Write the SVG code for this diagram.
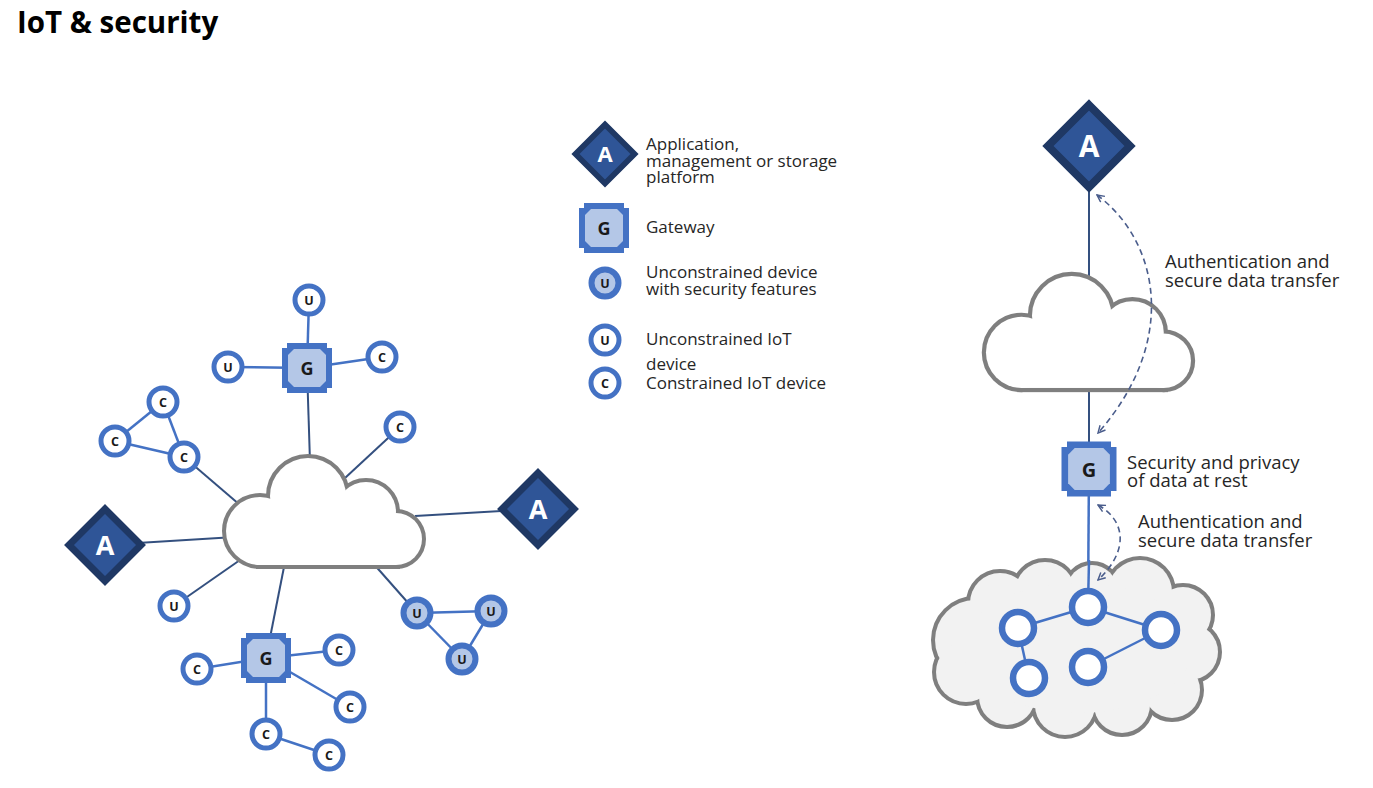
<svg xmlns="http://www.w3.org/2000/svg" width="1373" height="788" viewBox="0 0 1373 788">
<style>
.t{font-family:"Open Sans","Liberation Sans",sans-serif;fill:#262626}
.lg{font-size:17px}
.rl{font-size:18.5px}
.nl{font-family:"Open Sans","Liberation Sans",sans-serif;font-weight:bold;font-size:12.5px;fill:#1a1a1a;text-anchor:middle}
.gl{font-family:"Open Sans","Liberation Sans",sans-serif;font-weight:bold;font-size:18px;fill:#1a1a1a;text-anchor:middle}
.al{font-family:"Open Sans","Liberation Sans",sans-serif;font-weight:bold;fill:#ffffff;text-anchor:middle}
.ring{fill:#ffffff;stroke:#4472c4;stroke-width:5}
.sring{fill:#b4c7e7;stroke:#4472c4;stroke-width:6}
.bring{fill:#ffffff;stroke:#4472c4;stroke-width:6.5}
.nn{stroke:#4472c4;stroke-width:2.5;fill:none}
.cc{stroke:#34507f;stroke-width:2;fill:none}
.dash{stroke:#4a5d8c;stroke-width:1.6;fill:none;stroke-dasharray:6 4}
</style>
<defs>
<g id="cloudA">
<circle cx="33" cy="74" r="34"/>
<circle cx="81" cy="39" r="38"/>
<circle cx="139" cy="55" r="30"/>
<circle cx="169" cy="82" r="26"/>
<rect x="33" y="60" width="136" height="48"/>
</g>
<g id="cloudB">
<circle cx="975" cy="640" r="40"/>
<circle cx="1000" cy="603" r="30"/>
<circle cx="1045" cy="592" r="30"/>
<circle cx="1092" cy="590" r="25"/>
<circle cx="1140" cy="592" r="32"/>
<circle cx="1183" cy="615" r="28"/>
<circle cx="1190" cy="652" r="28"/>
<circle cx="1172" cy="690" r="28"/>
<circle cx="1122" cy="705" r="28"/>
<circle cx="1065" cy="705" r="30"/>
<circle cx="1007" cy="697" r="28"/>
<circle cx="966" cy="672" r="30"/>
<ellipse cx="1078" cy="648" rx="115" ry="65"/>
</g>
<g id="gw">
<path d="M-20,-25 H20 V-20 H25 V20 H20 V25 H-20 V20 H-25 V-20 H-20 Z" fill="#4472c4"/>
<path d="M-13,-19 H13 L19,-13 V13 L13,19 H-13 L-19,13 V-13 Z" fill="#b4c7e7"/>
</g>
<polygon id="diam" points="0,-36 36,0 0,36 -36,0" fill="#2f5597" stroke="#1f3864" stroke-width="7"/>
<marker id="arr" viewBox="0 0 10 10" refX="9" refY="5" markerWidth="9" markerHeight="9" markerUnits="userSpaceOnUse" orient="auto-start-reverse">
<path d="M1,1 L9,5 L1,9" fill="none" stroke="#4a5d8c" stroke-width="1.6"/>
</marker>
</defs>

<text x="17" y="33" class="t" style="font-size:29.5px;font-weight:bold;fill:#000">IoT &amp; security</text>

<g id="connectors">
<line class="cc" x1="307" y1="368" x2="310" y2="462"/>
<line class="cc" x1="400" y1="427" x2="345" y2="478"/>
<line class="cc" x1="184" y1="457" x2="240" y2="505"/>
<line class="cc" x1="105" y1="545" x2="235" y2="537"/>
<line class="cc" x1="538" y1="509" x2="415" y2="516"/>
<line class="cc" x1="174" y1="606" x2="240" y2="560"/>
<line class="cc" x1="266" y1="658" x2="285" y2="562"/>
<line class="cc" x1="417" y1="613" x2="372" y2="562"/>
<line class="nn" x1="307" y1="368" x2="309" y2="300"/>
<line class="nn" x1="307" y1="368" x2="228" y2="367"/>
<line class="nn" x1="307" y1="368" x2="382" y2="357"/>
<line class="nn" x1="163" y1="402" x2="115" y2="441"/>
<line class="nn" x1="163" y1="402" x2="184" y2="457"/>
<line class="nn" x1="115" y1="441" x2="184" y2="457"/>
<line class="nn" x1="266" y1="658" x2="197" y2="669"/>
<line class="nn" x1="266" y1="658" x2="339" y2="650"/>
<line class="nn" x1="266" y1="658" x2="350" y2="707"/>
<line class="nn" x1="266" y1="658" x2="266" y2="734"/>
<line class="nn" x1="266" y1="734" x2="329" y2="755"/>
<line class="nn" x1="417" y1="613" x2="491" y2="611"/>
<line class="nn" x1="417" y1="613" x2="462" y2="659"/>
<line class="nn" x1="491" y1="611" x2="462" y2="659"/>
<line class="cc" x1="1089" y1="146" x2="1089" y2="282"/>
<line class="cc" x1="1089" y1="385" x2="1089" y2="450"/>
<line class="nn" x1="1089" y1="469" x2="1088" y2="607"/>
</g>

<g id="cloud-left">
<use href="#cloudA" transform="translate(227,457)" fill="#7f7f7f" stroke="#7f7f7f" stroke-width="8"/>
<use href="#cloudA" transform="translate(227,457)" fill="#ffffff"/>
</g>
<g id="cloud-right">
<use href="#cloudA" transform="translate(987,275) scale(1.046)" fill="#7f7f7f" stroke="#7f7f7f" stroke-width="8"/>
<use href="#cloudA" transform="translate(987,275) scale(1.046)" fill="#ffffff"/>
</g>
<g id="cloud-bottom">
<use href="#cloudB" fill="#7f7f7f" stroke="#7f7f7f" stroke-width="8"/>
<use href="#cloudB" fill="#f2f2f2"/>
<line class="nn" x1="1089" y1="560" x2="1088" y2="607"/>
<line class="nn" x1="1088" y1="607" x2="1018" y2="628"/>
<line class="nn" x1="1088" y1="607" x2="1161" y2="630"/>
<line class="nn" x1="1161" y1="630" x2="1088" y2="667"/>
<line class="nn" x1="1018" y1="628" x2="1029" y2="678"/>
</g>

<g id="dashed">
<path class="dash" d="M1097,195 C1158,240 1180,340 1098,433" marker-start="url(#arr)" marker-end="url(#arr)"/>
<path class="dash" d="M1098,505 C1125,520 1130,550 1098,580" marker-start="url(#arr)" marker-end="url(#arr)"/>
</g>

<g id="node-g-top"><use href="#gw" transform="translate(307,368)"/><text class="gl" x="307" y="375">G</text></g>
<g id="node-g-bottom"><use href="#gw" transform="translate(266,658)"/><text class="gl" x="266" y="665">G</text></g>
<g id="node-a-left"><use href="#diam" transform="translate(105,545)"/><text class="al" x="105" y="555" style="font-size:27px">A</text></g>
<g id="node-a-right"><use href="#diam" transform="translate(538,509)"/><text class="al" x="538" y="519" style="font-size:27px">A</text></g>

<g id="node-u1"><circle class="ring" cx="309" cy="300" r="14"/><text class="nl" x="309" y="304.5">U</text></g>
<g id="node-u2"><circle class="ring" cx="228" cy="367" r="14"/><text class="nl" x="228" y="371.5">U</text></g>
<g id="node-u3"><circle class="ring" cx="174" cy="606" r="14"/><text class="nl" x="174" y="610.5">U</text></g>
<g id="node-c1"><circle class="ring" cx="382" cy="357" r="14"/><text class="nl" x="382" y="361.5">C</text></g>
<g id="node-c2"><circle class="ring" cx="400" cy="427" r="14"/><text class="nl" x="400" y="431.5">C</text></g>
<g id="node-c3"><circle class="ring" cx="163" cy="402" r="14"/><text class="nl" x="163" y="406.5">C</text></g>
<g id="node-c4"><circle class="ring" cx="115" cy="441" r="14"/><text class="nl" x="115" y="445.5">C</text></g>
<g id="node-c5"><circle class="ring" cx="184" cy="457" r="14"/><text class="nl" x="184" y="461.5">C</text></g>
<g id="node-c6"><circle class="ring" cx="197" cy="669" r="14"/><text class="nl" x="197" y="673.5">C</text></g>
<g id="node-c7"><circle class="ring" cx="339" cy="650" r="14"/><text class="nl" x="339" y="654.5">C</text></g>
<g id="node-c8"><circle class="ring" cx="350" cy="707" r="14"/><text class="nl" x="350" y="711.5">C</text></g>
<g id="node-c9"><circle class="ring" cx="266" cy="734" r="14"/><text class="nl" x="266" y="738.5">C</text></g>
<g id="node-c10"><circle class="ring" cx="329" cy="755" r="14"/><text class="nl" x="329" y="759.5">C</text></g>
<g id="node-su1"><circle class="sring" cx="417" cy="613" r="13.5"/><text class="nl" x="417" y="617.5">U</text></g>
<g id="node-su2"><circle class="sring" cx="491" cy="611" r="13.5"/><text class="nl" x="491" y="615.5">U</text></g>
<g id="node-su3"><circle class="sring" cx="462" cy="659" r="13.5"/><text class="nl" x="462" y="663.5">U</text></g>

<g id="legend">
<use href="#diam" transform="translate(605,154) scale(0.82)"/><text class="al" x="605" y="162" style="font-size:22px">A</text>
<text class="t lg" x="646" y="150">Application,</text>
<text class="t lg" x="646" y="166.5">management or storage</text>
<text class="t lg" x="646" y="183">platform</text>
<use href="#gw" transform="translate(604,228)"/><text class="gl" x="604" y="235">G</text>
<text class="t lg" x="646" y="233">Gateway</text>
<circle class="sring" cx="605" cy="283" r="13.5"/><text class="nl" x="605" y="287.5">U</text>
<text class="t lg" x="646" y="278">Unconstrained device</text>
<text class="t lg" x="646" y="295">with security features</text>
<circle class="ring" cx="605" cy="340" r="14"/><text class="nl" x="605" y="344.5">U</text>
<text class="t lg" x="646" y="345">Unconstrained IoT</text>
<text class="t lg" x="646" y="370">device</text>
<circle class="ring" cx="605" cy="383" r="14"/><text class="nl" x="605" y="387.5">C</text>
<text class="t lg" x="646" y="389">Constrained IoT device</text>
</g>

<g id="node-a-top"><use href="#diam" transform="translate(1089,146) scale(1.14)"/><text class="al" x="1089" y="157" style="font-size:30px">A</text></g>
<g id="node-g-right"><use href="#gw" transform="translate(1089,469) scale(1.1)"/><text class="gl" x="1089" y="477" style="font-size:20px">G</text></g>
<g id="cloud-devices">
<circle class="bring" cx="1088" cy="607" r="16"/>
<circle class="bring" cx="1018" cy="628" r="16"/>
<circle class="bring" cx="1161" cy="630" r="16"/>
<circle class="bring" cx="1029" cy="678" r="16"/>
<circle class="bring" cx="1088" cy="667" r="16"/>
</g>

<g id="labels-right">
<text class="t rl" x="1165" y="268">Authentication and</text>
<text class="t rl" x="1165" y="287">secure data transfer</text>
<text class="t rl" x="1127" y="469">Security and privacy</text>
<text class="t rl" x="1127" y="487">of data at rest</text>
<text class="t rl" x="1138" y="528">Authentication and</text>
<text class="t rl" x="1138" y="547">secure data transfer</text>
</g>
</svg>
